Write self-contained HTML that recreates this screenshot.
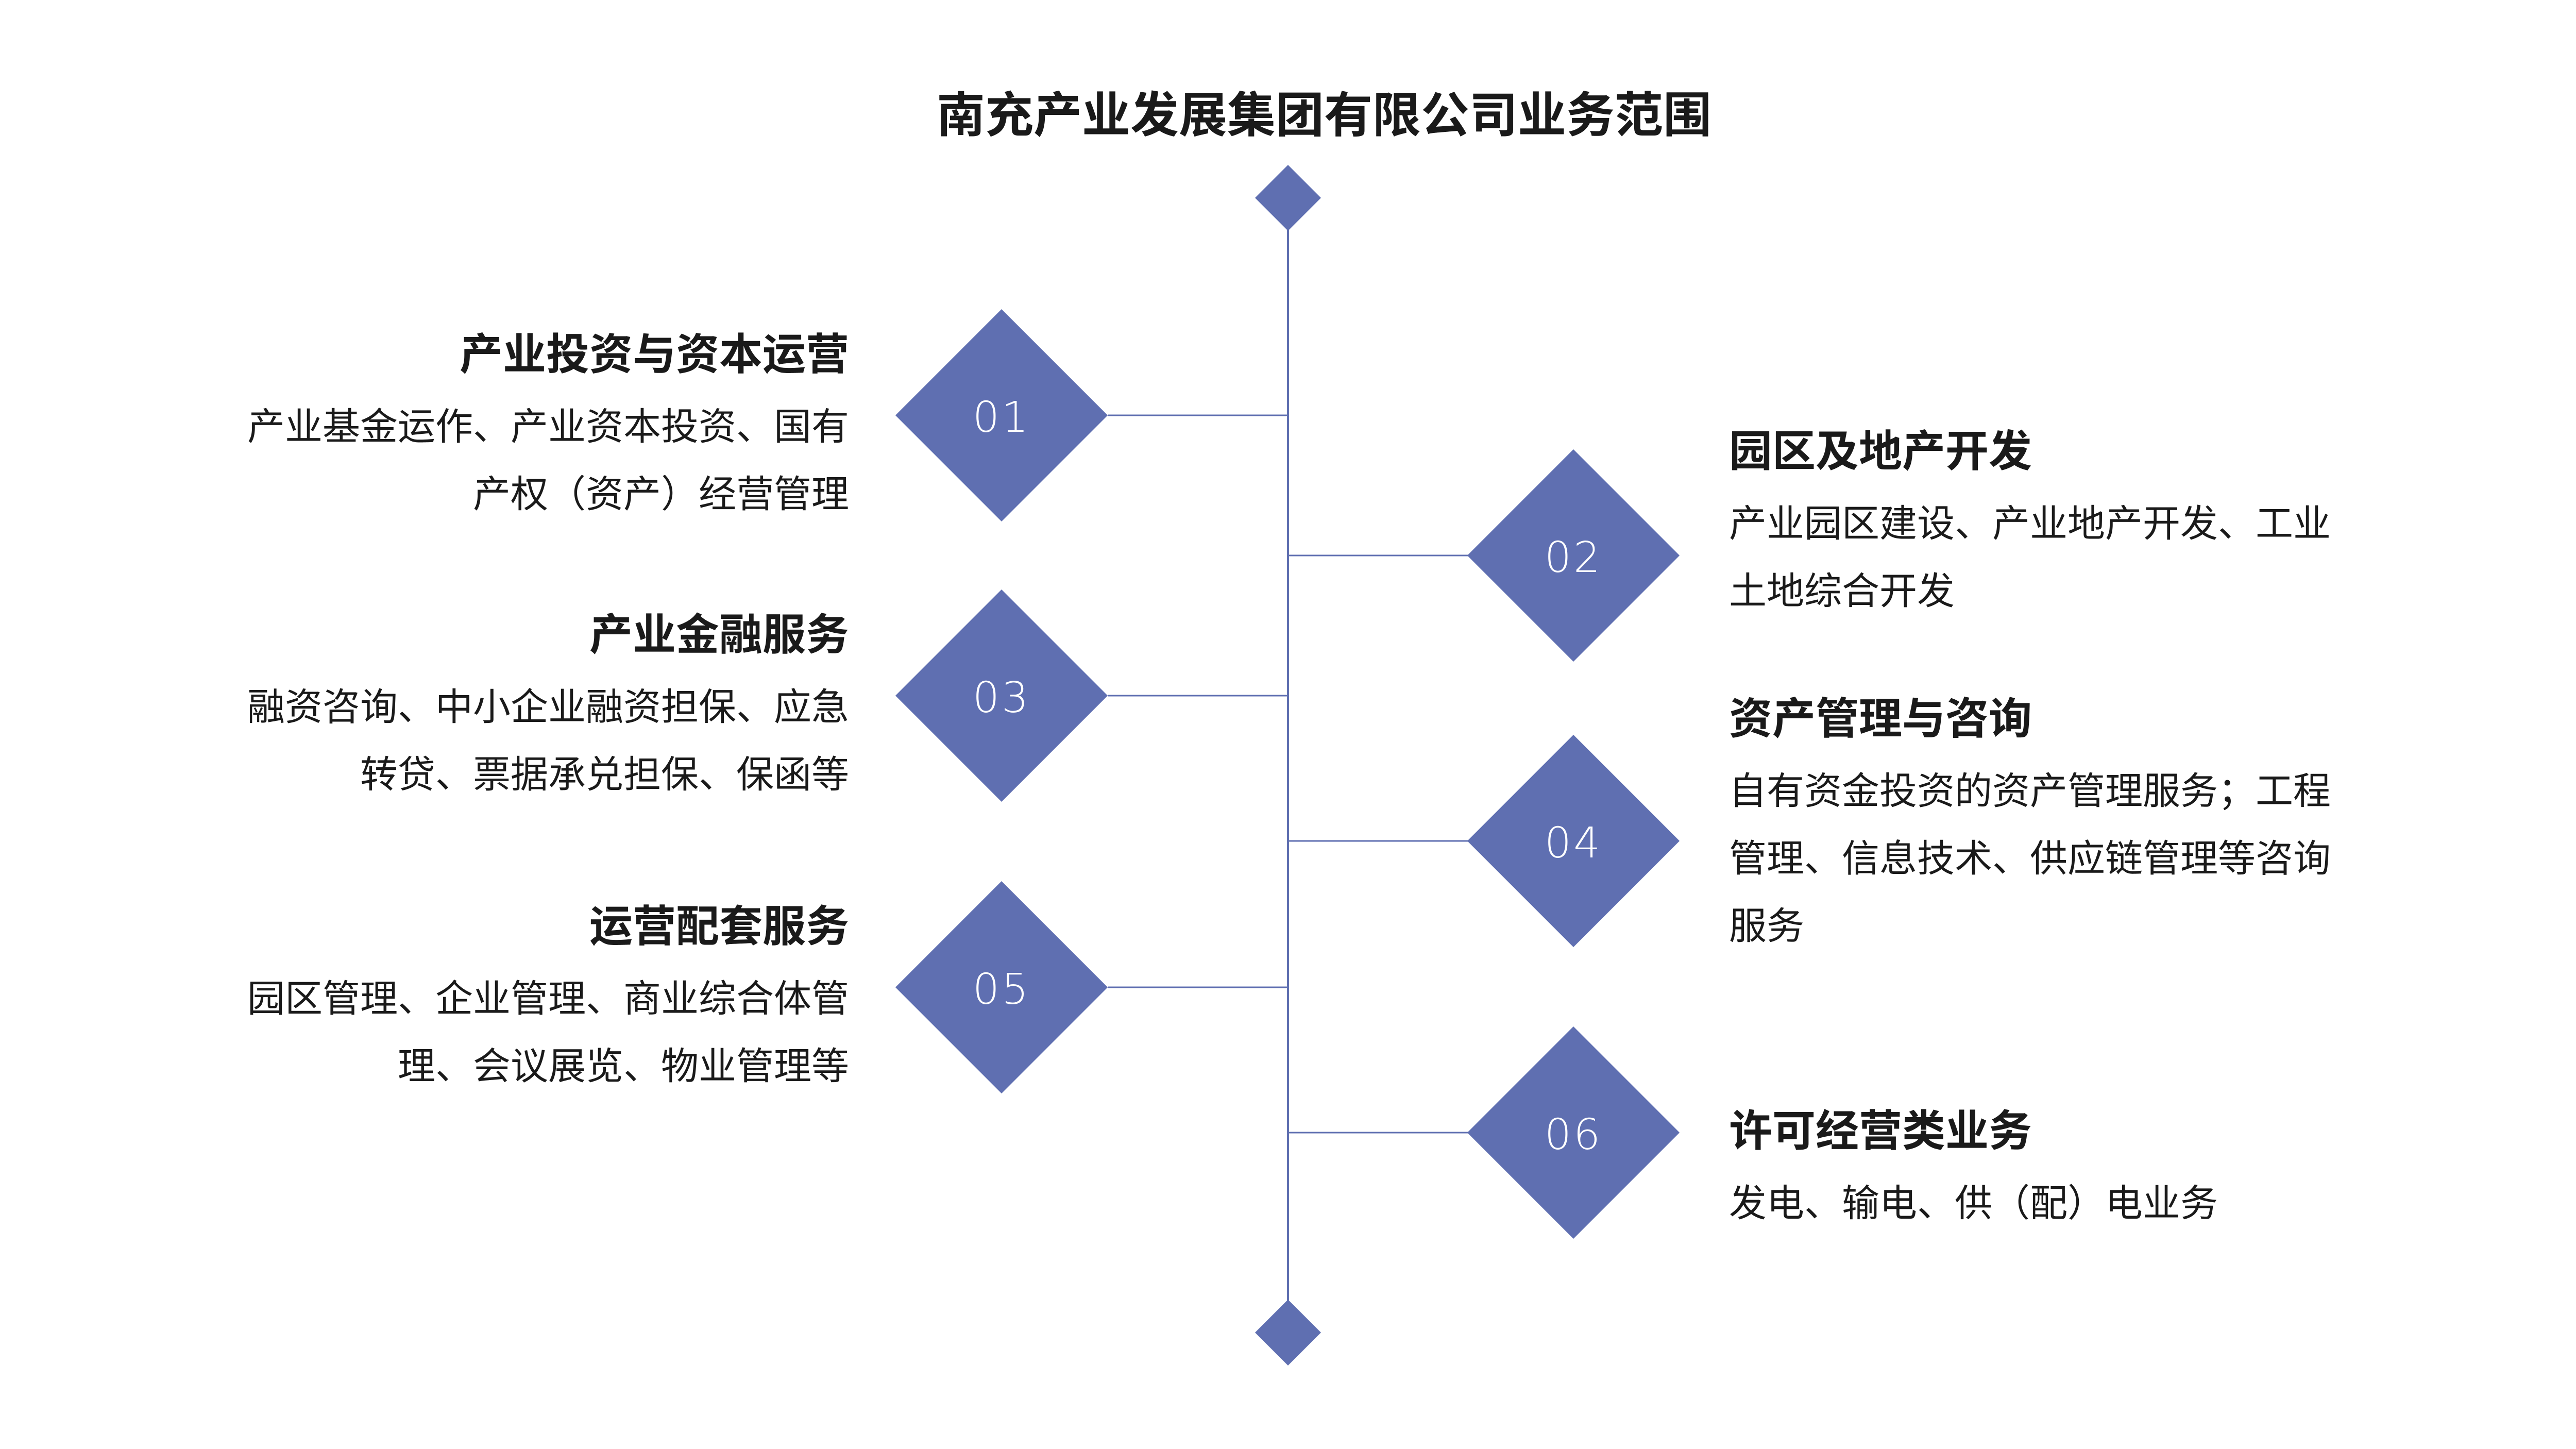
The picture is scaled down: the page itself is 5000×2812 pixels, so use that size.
<!DOCTYPE html>
<html><head><meta charset="utf-8"><style>
html,body{margin:0;padding:0;background:#fff;}
body{width:5000px;height:2812px;position:relative;overflow:hidden;font-family:"Liberation Sans","Noto Sans CJK SC",sans-serif;color:#1a1a1a;}
.t{position:absolute;white-space:nowrap;line-height:1;}
.h{font-size:84px;font-weight:bold;}
.b{font-size:73px;}
.l{right:3352px;text-align:right;}
.r{left:3356px;}
.n{position:absolute;width:300px;text-align:center;color:#fff;font-size:82px;line-height:1;font-family:"DejaVu Sans","Liberation Sans",sans-serif;font-weight:200;letter-spacing:4px;}
</style></head><body>
<svg width="5000" height="2812" style="position:absolute;left:0;top:0">
<g fill="#5f6fb1" transform="translate(-8,0)">
<line x1="2508" y1="384" x2="2508" y2="2586" stroke="#5f6fb1" stroke-width="4"/>
<polygon points="2508,320 2572,384 2508,448 2444,384"/>
<polygon points="2508,2522 2572,2586 2508,2650 2444,2586"/>
<line x1="2158" y1="806" x2="2508" y2="806" stroke="#5f6fb1" stroke-width="3"/>
<line x1="2158" y1="1350" x2="2508" y2="1350" stroke="#5f6fb1" stroke-width="3"/>
<line x1="2158" y1="1916" x2="2508" y2="1916" stroke="#5f6fb1" stroke-width="3"/>
<line x1="2508" y1="1078" x2="2858" y2="1078" stroke="#5f6fb1" stroke-width="3"/>
<line x1="2508" y1="1632" x2="2858" y2="1632" stroke="#5f6fb1" stroke-width="3"/>
<line x1="2508" y1="2198" x2="2858" y2="2198" stroke="#5f6fb1" stroke-width="3"/>
<polygon points="1952,600 2158,806 1952,1012 1746,806"/>
<polygon points="1952,1144 2158,1350 1952,1556 1746,1350"/>
<polygon points="1952,1710 2158,1916 1952,2122 1746,1916"/>
<polygon points="3062,872 3268,1078 3062,1284 2856,1078"/>
<polygon points="3062,1426 3268,1632 3062,1838 2856,1632"/>
<polygon points="3062,1992 3268,2198 3062,2404 2856,2198"/>
</g></svg>
<div class="n" style="left:1794px;top:770px">01</div>
<div class="n" style="left:1794px;top:1314px">03</div>
<div class="n" style="left:1794px;top:1880px">05</div>
<div class="n" style="left:2904px;top:1042px">02</div>
<div class="n" style="left:2904px;top:1596px">04</div>
<div class="n" style="left:2904px;top:2162px">06</div>

<div class="t" style="left:0;width:5140px;text-align:center;top:177px;font-size:94px;font-weight:bold;">南充产业发展集团有限公司业务范围</div>

<div class="t h l" style="top:646px">产业投资与资本运营</div>
<div class="t b l" style="top:792px">产业基金运作、产业资本投资、国有</div>
<div class="t b l" style="top:923px">产权（资产）经营管理</div>

<div class="t h l" style="top:1190px">产业金融服务</div>
<div class="t b l" style="top:1336px">融资咨询、中小企业融资担保、应急</div>
<div class="t b l" style="top:1467px">转贷、票据承兑担保、保函等</div>

<div class="t h l" style="top:1756px">运营配套服务</div>
<div class="t b l" style="top:1902px">园区管理、企业管理、商业综合体管</div>
<div class="t b l" style="top:2033px">理、会议展览、物业管理等</div>

<div class="t h r" style="top:834px">园区及地产开发</div>
<div class="t b r" style="top:980px">产业园区建设、产业地产开发、工业</div>
<div class="t b r" style="top:1111px">土地综合开发</div>

<div class="t h r" style="top:1353px">资产管理与咨询</div>
<div class="t b r" style="top:1499px">自有资金投资的资产管理服务；工程</div>
<div class="t b r" style="top:1630px">管理、信息技术、供应链管理等咨询</div>
<div class="t b r" style="top:1761px">服务</div>

<div class="t h r" style="top:2153px">许可经营类业务</div>
<div class="t b r" style="top:2299px">发电、输电、供（配）电业务</div>
</body></html>
